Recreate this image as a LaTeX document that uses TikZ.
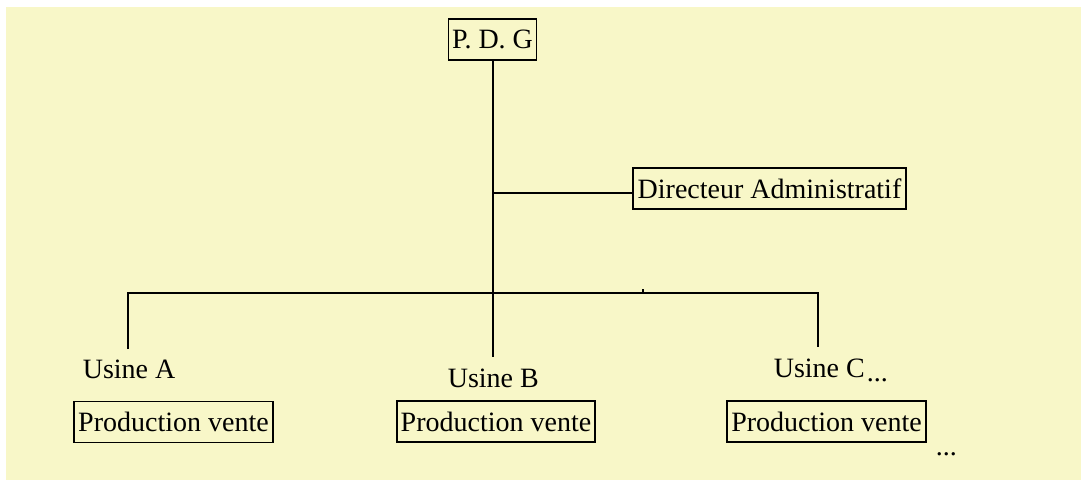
\documentclass[tikz,border=0pt]{standalone}
\usepackage{fontspec}
\setmainfont{Liberation Serif}
\definecolor{paper}{HTML}{F8F7C8}
\begin{document}
\begin{tikzpicture}[x=1pt,y=-1pt,
  line width=1.6pt,
  box/.style={draw=black, line width=1.6pt, inner sep=0pt, minimum height=41pt, font=\fontsize{28}{30}\selectfont},
  label/.style={inner sep=0pt, font=\fontsize{28}{30}\selectfont},
  dots/.style={inner sep=0pt, font=\fontsize{28}{30}\selectfont}]
  % page and background
  \useasboundingbox (0,0) rectangle (1081,480);
  \fill[white] (0,0) rectangle (1081,480);
  \fill[paper] (6,7) rectangle (1081,480);

  % boxes
  \node[box, minimum width=88pt] (pdg) at (492.5,39.5) {P. D. G};
  \node[box, minimum width=273pt] (dir) at (769.5,188.5) {Directeur Administratif};
  \node[box, minimum width=199pt] (pa) at (173.5,422) {Production vente};
  \node[box, minimum width=198pt] (pb) at (496,421.5) {Production vente};
  \node[box, minimum width=199pt] (pc) at (826.5,421.5) {Production vente};

  % factory labels
  \node[label, anchor=base west] (ua) at (82,378) {Usine A};
  \node[label, anchor=base west] (ub) at (447,387) {Usine B};
  \node[label, anchor=base west] (uc) at (773,377) {Usine C};
  \node[dots, anchor=base west] (ucd) at (866,381) {...};
  \node[dots, anchor=base west] (more) at (935,455) {...};

  % junction points
  \coordinate (jd) at (493,193);
  \coordinate (jm) at (493,293);
  \coordinate (jl) at (128,293);
  \coordinate (jr) at (818,293);
  \coordinate (ea) at (128,349);
  \coordinate (eb) at (493,357);
  \coordinate (ec) at (818,347);
  \coordinate (tick) at (643,293);

  % connectors
  \draw (pdg.south -| jm) -- (eb);
  \draw (jd) -- (dir.west |- jd);
  \draw (ea) -- (jl) -- (jr) -- (ec);
  \draw[line width=1.2pt] (tick) -- ++(0,-4);
\end{tikzpicture}
\end{document}
